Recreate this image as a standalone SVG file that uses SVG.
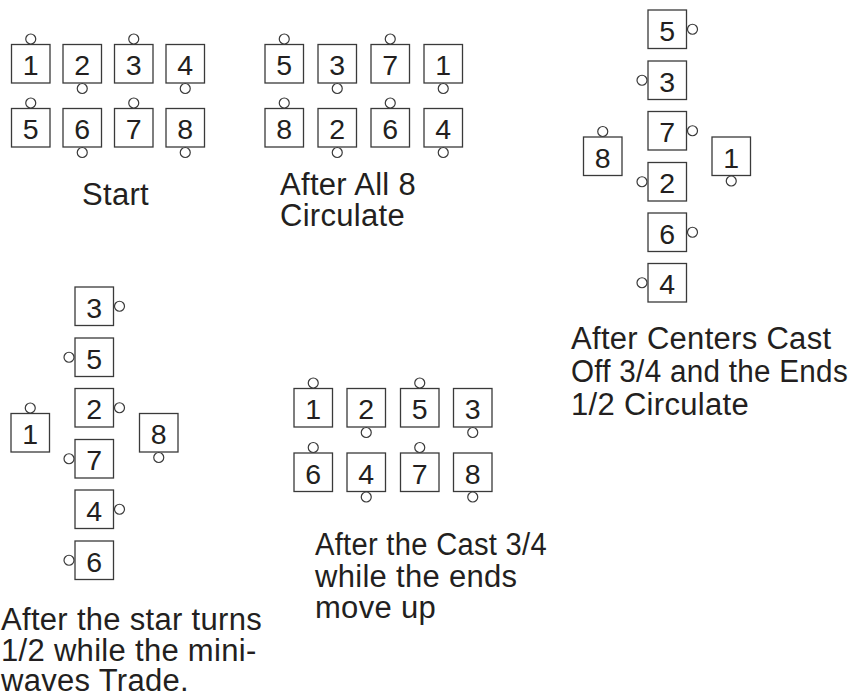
<svg xmlns="http://www.w3.org/2000/svg" width="856" height="696" viewBox="0 0 856 696">
<style>
.b{fill:#fff;stroke:#3a3a3a;stroke-width:1.3}
.c{fill:#fff;stroke:#3a3a3a;stroke-width:1.2}
.n{font-family:"Liberation Sans",Arial,sans-serif;font-size:28.5px;fill:#231f20;text-anchor:middle}
.l{font-family:"Liberation Sans",Arial,sans-serif;font-size:31px;letter-spacing:0.3px;fill:#231f20}
</style>
<defs>
<rect id="box" class="b" x="0" y="0" width="38.5" height="38.5"/>
<circle id="ct" class="c" cx="19.25" cy="-5.5" r="5"/>
<circle id="cb" class="c" cx="19.25" cy="44" r="5"/>
<circle id="cl" class="c" cx="-6" cy="19.25" r="5"/>
<circle id="cr" class="c" cx="44.5" cy="19.25" r="5"/>
</defs>
<rect width="856" height="696" fill="#fff"/>

<!-- Start -->
<g id="start">
<g id="s1" transform="translate(11.5,44.5)"><use href="#box"/><use href="#ct"/><text class="n" x="19.25" y="30.5">1</text></g>
<g id="s2" transform="translate(63,44.5)"><use href="#box"/><use href="#cb"/><text class="n" x="19.25" y="30.5">2</text></g>
<g id="s3" transform="translate(114.5,44.5)"><use href="#box"/><use href="#ct"/><text class="n" x="19.25" y="30.5">3</text></g>
<g id="s4" transform="translate(166,44.5)"><use href="#box"/><use href="#cb"/><text class="n" x="19.25" y="30.5">4</text></g>
<g id="s5" transform="translate(11.5,108.5)"><use href="#box"/><use href="#ct"/><text class="n" x="19.25" y="30.5">5</text></g>
<g id="s6" transform="translate(63,108.5)"><use href="#box"/><use href="#cb"/><text class="n" x="19.25" y="30.5">6</text></g>
<g id="s7" transform="translate(114.5,108.5)"><use href="#box"/><use href="#ct"/><text class="n" x="19.25" y="30.5">7</text></g>
<g id="s8" transform="translate(166,108.5)"><use href="#box"/><use href="#cb"/><text class="n" x="19.25" y="30.5">8</text></g>
<text class="l" x="82" y="205">Start</text>
</g>

<!-- After All 8 Circulate -->
<g id="circ">
<g id="a5" transform="translate(265,44.5)"><use href="#box"/><use href="#ct"/><text class="n" x="19.25" y="30.5">5</text></g>
<g id="a3" transform="translate(318,44.5)"><use href="#box"/><use href="#cb"/><text class="n" x="19.25" y="30.5">3</text></g>
<g id="a7" transform="translate(371,44.5)"><use href="#box"/><use href="#ct"/><text class="n" x="19.25" y="30.5">7</text></g>
<g id="a1" transform="translate(424,44.5)"><use href="#box"/><use href="#cb"/><text class="n" x="19.25" y="30.5">1</text></g>
<g id="a8" transform="translate(265,108.5)"><use href="#box"/><use href="#ct"/><text class="n" x="19.25" y="30.5">8</text></g>
<g id="a2" transform="translate(318,108.5)"><use href="#box"/><use href="#cb"/><text class="n" x="19.25" y="30.5">2</text></g>
<g id="a6" transform="translate(371,108.5)"><use href="#box"/><use href="#ct"/><text class="n" x="19.25" y="30.5">6</text></g>
<g id="a4" transform="translate(424,108.5)"><use href="#box"/><use href="#cb"/><text class="n" x="19.25" y="30.5">4</text></g>
<text class="l" x="280" y="195">After All 8</text>
<text class="l" x="280" y="226">Circulate</text>
</g>

<!-- After Centers Cast Off 3/4 -->
<g id="cast">
<g id="c5" transform="translate(648,10)"><use href="#box"/><use href="#cr"/><text class="n" x="19.25" y="30.5">5</text></g>
<g id="c3" transform="translate(648,61)"><use href="#box"/><use href="#cl"/><text class="n" x="19.25" y="30.5">3</text></g>
<g id="c7" transform="translate(648,111.5)"><use href="#box"/><use href="#cr"/><text class="n" x="19.25" y="30.5">7</text></g>
<g id="c2" transform="translate(648,162.5)"><use href="#box"/><use href="#cl"/><text class="n" x="19.25" y="30.5">2</text></g>
<g id="c6" transform="translate(648,213)"><use href="#box"/><use href="#cr"/><text class="n" x="19.25" y="30.5">6</text></g>
<g id="c4" transform="translate(648,263.5)"><use href="#box"/><use href="#cl"/><text class="n" x="19.25" y="30.5">4</text></g>
<g id="c8" transform="translate(583.5,137)"><use href="#box"/><use href="#ct"/><text class="n" x="19.25" y="30.5">8</text></g>
<g id="c1" transform="translate(712,137)"><use href="#box"/><use href="#cb"/><text class="n" x="19.25" y="30.5">1</text></g>
<text class="l" x="571" y="349">After Centers Cast</text>
<text class="l" x="571" y="382" textLength="277" lengthAdjust="spacingAndGlyphs">Off 3/4 and the Ends</text>
<text class="l" x="571" y="415">1/2 Circulate</text>
</g>

<!-- After the star turns -->
<g id="star">
<g id="t3" transform="translate(75,287)"><use href="#box"/><use href="#cr"/><text class="n" x="19.25" y="30.5">3</text></g>
<g id="t5" transform="translate(75,338)"><use href="#box"/><use href="#cl"/><text class="n" x="19.25" y="30.5">5</text></g>
<g id="t2" transform="translate(75,388.5)"><use href="#box"/><use href="#cr"/><text class="n" x="19.25" y="30.5">2</text></g>
<g id="t7" transform="translate(75,439.5)"><use href="#box"/><use href="#cl"/><text class="n" x="19.25" y="30.5">7</text></g>
<g id="t4" transform="translate(75,490)"><use href="#box"/><use href="#cr"/><text class="n" x="19.25" y="30.5">4</text></g>
<g id="t6" transform="translate(75,541)"><use href="#box"/><use href="#cl"/><text class="n" x="19.25" y="30.5">6</text></g>
<g id="t1" transform="translate(11,413.5)"><use href="#box"/><use href="#ct"/><text class="n" x="19.25" y="30.5">1</text></g>
<g id="t8" transform="translate(139.5,413.5)"><use href="#box"/><use href="#cb"/><text class="n" x="19.25" y="30.5">8</text></g>
<text class="l" x="1" y="630">After the star turns</text>
<text class="l" x="1" y="661">1/2 while the mini-</text>
<text class="l" x="1" y="691">waves Trade.</text>
</g>

<!-- After the Cast 3/4 -->
<g id="move">
<g id="m1" transform="translate(294,388.5)"><use href="#box"/><use href="#ct"/><text class="n" x="19.25" y="30.5">1</text></g>
<g id="m2" transform="translate(347,388.5)"><use href="#box"/><use href="#cb"/><text class="n" x="19.25" y="30.5">2</text></g>
<g id="m5" transform="translate(400.5,388.5)"><use href="#box"/><use href="#ct"/><text class="n" x="19.25" y="30.5">5</text></g>
<g id="m3" transform="translate(453.5,388.5)"><use href="#box"/><use href="#cb"/><text class="n" x="19.25" y="30.5">3</text></g>
<g id="m6" transform="translate(294,453)"><use href="#box"/><use href="#ct"/><text class="n" x="19.25" y="30.5">6</text></g>
<g id="m4" transform="translate(347,453)"><use href="#box"/><use href="#cb"/><text class="n" x="19.25" y="30.5">4</text></g>
<g id="m7" transform="translate(400.5,453)"><use href="#box"/><use href="#ct"/><text class="n" x="19.25" y="30.5">7</text></g>
<g id="m8" transform="translate(453.5,453)"><use href="#box"/><use href="#cb"/><text class="n" x="19.25" y="30.5">8</text></g>
<text class="l" x="315" y="555" textLength="232" lengthAdjust="spacingAndGlyphs">After the Cast 3/4</text>
<text class="l" x="315" y="587">while the ends</text>
<text class="l" x="315" y="618">move up</text>
</g>

<g id="connectors"/>
</svg>
